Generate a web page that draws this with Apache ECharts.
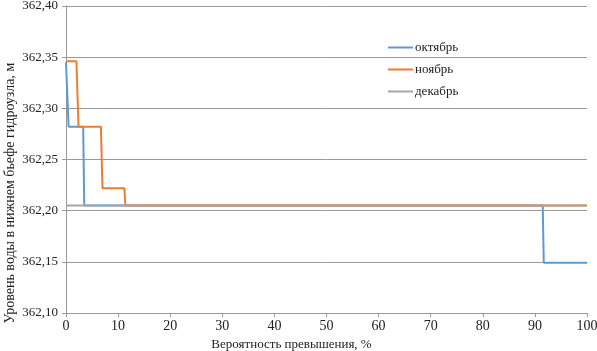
<!DOCTYPE html>
<html>
<head>
<meta charset="utf-8">
<script src="https://cdn.jsdelivr.net/npm/echarts@6/dist/echarts.min.js"></script>
<style>
  html, body { margin: 0; padding: 0; background: #fff; }
  #chart { width: 597px; height: 351px; }
</style>
</head>
<body>
<div id="chart"></div>
<script>
// Данные: вероятность превышения (%) и уровень воды (м)
var seriesNames = ['октябрь', 'ноябрь', 'декабрь'];

var octX = [0, 0.3, 0.5, 3.3, 3.5, 91.5, 91.7, 100];
var octY = [362.345, 362.345, 362.282, 362.282, 362.205, 362.205, 362.149, 362.149];

var novX = [0, 2.0, 2.4, 6.7, 7.0, 11.2, 11.4, 100];
var novY = [362.346, 362.346, 362.282, 362.282, 362.222, 362.222, 362.205, 362.205];

var decX = [0, 100];
var decY = [362.205, 362.205];

var colors = ['#5b9bd5', '#ed7d31', '#a5a5a5'];

function pairs(xs, ys) {
  return xs.map(function (x, i) { return [x, ys[i]]; });
}

(function () {
  'use strict';
  var chart = echarts.init(document.getElementById('chart'), null, { renderer: 'canvas' });
  var font = '"Liberation Serif", "DejaVu Serif", serif';

  function line(name, data, color) {
    return {
      name: name,
      type: 'line',
      data: data,
      symbol: 'none',
      lineStyle: { color: color, width: 2 },
      itemStyle: { color: color }
    };
  }

  chart.setOption({
    animation: false,
    textStyle: { fontFamily: font },
    grid: { left: 66, right: 10, top: 6, bottom: 38, containLabel: false, outerBoundsMode: 'none' },
    // подпись оси Y (смещена вниз, как в оригинале)
    graphic: [{
      type: 'text',
      x: 10,
      y: 193,
      rotation: Math.PI / 2,
      style: {
        text: 'Уровень воды в нижнем бьефе гидроузла, м',
        font: '14px "Liberation Serif", serif',
        fill: '#222',
        align: 'center',
        verticalAlign: 'middle'
      }
    }],
    legend: {
      orient: 'vertical',
      left: 388,
      top: 41,
      padding: 0,
      itemWidth: 25,
      itemHeight: 14,
      itemGap: 9,
      icon: 'path://M0,6 L25,6 L25,8 L0,8 Z',
      textStyle: { fontFamily: font, fontSize: 13, color: '#222', padding: [0, 0, 0, -3] },
      data: seriesNames
    },
    xAxis: {
      type: 'value',
      min: 0,
      max: 100,
      interval: 10,
      name: 'Вероятность превышения, %',
      nameLocation: 'middle',
      nameGap: 21,
      nameTextStyle: { fontFamily: font, fontSize: 13, color: '#222', padding: [0, 70, 0, 0] },
      axisLine: { show: true, lineStyle: { color: '#999', width: 1 } },
      axisTick: { show: true, length: 4, lineStyle: { color: '#999' } },
      axisLabel: { fontFamily: font, fontSize: 14, color: '#222', margin: 6 },
      splitLine: { show: false }
    },
    yAxis: {
      type: 'value',
      min: 362.10,
      max: 362.40,
      interval: 0.05,
      axisLine: { show: true, lineStyle: { color: '#999', width: 1 } },
      axisTick: { show: true, length: 4, inside: false, lineStyle: { color: '#999' } },
      axisLabel: {
        fontFamily: font,
        fontSize: 13,
        color: '#222',
        margin: 8,
        formatter: function (v) { return v.toFixed(2).replace('.', ','); }
      },
      splitLine: { show: true, lineStyle: { color: '#9a9a9a', width: 1 } }
    },
    series: [
      line(seriesNames[0], pairs(octX, octY), colors[0]),
      line(seriesNames[1], pairs(novX, novY), colors[1]),
      line(seriesNames[2], pairs(decX, decY), colors[2])
    ]
  });
})();
</script>
</body>
</html>
